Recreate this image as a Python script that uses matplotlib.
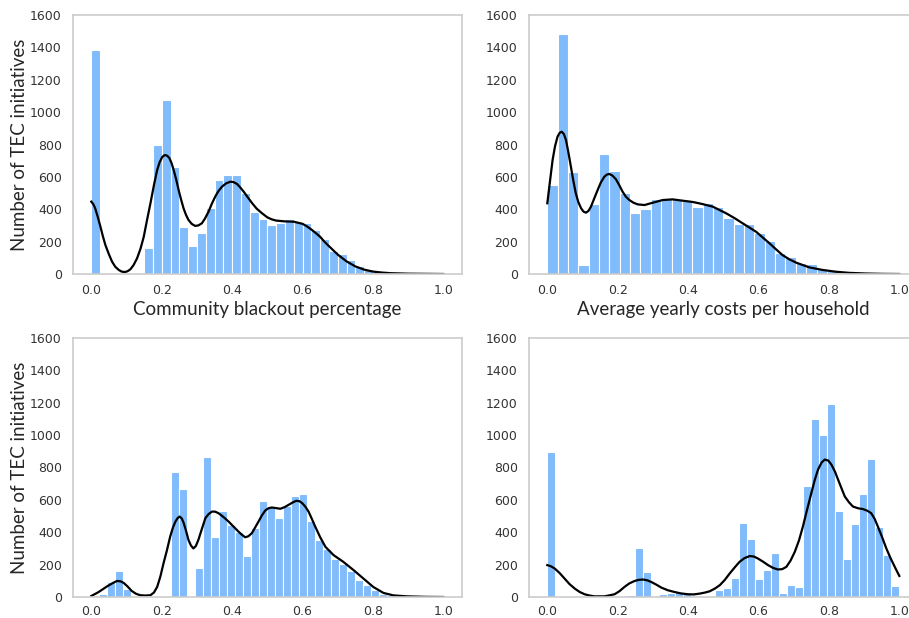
import numpy as np
import matplotlib.pyplot as plt

# histogram counts per bin (bins span 0..1)
blackout_counts = [1384, 0, 0, 0, 0, 0, 163, 797, 1073, 661, 292, 173, 251, 408, 581,
                   609, 614, 498, 385, 342, 301, 313, 338, 323, 317, 272, 214, 144, 124,
                   86, 49, 33, 20, 12, 5, 3, 1, 0, 0, 0]
costs_counts = [550, 1482, 632, 54, 431, 739, 636, 502, 379, 401, 465, 465, 462, 451,
                411, 437, 415, 347, 310, 309, 251, 204, 128, 107, 70, 62, 29, 19, 8, 4,
                2, 1, 0, 0]
panel3_counts = [0, 17, 93, 161, 50, 0, 0, 0, 0, 0, 770, 667, 0, 180, 867, 373, 534, 445,
                 404, 253, 424, 595, 563, 488, 563, 623, 639, 470, 354, 294, 232, 201,
                 159, 104, 72, 46, 21, 10, 4, 2, 1, 0, 0, 0]
panel4_counts = [896, 0, 0, 0, 0, 0, 0, 0, 0, 0, 12, 302, 153, 8, 17, 23, 29, 17, 6, 4,
                 8, 46, 56, 118, 458, 357, 114, 166, 271, 25, 75, 61, 683, 1102, 999,
                 1194, 531, 234, 454, 636, 853, 435, 259, 67]

# kde curves
blackout_kde_x = [0.0, 0.006, 0.011, 0.018, 0.026, 0.033, 0.040, 0.050, 0.059, 0.068,
                  0.078, 0.086, 0.095, 0.103, 0.111, 0.120, 0.130, 0.140, 0.149, 0.158,
                  0.168, 0.178, 0.187, 0.194, 0.201, 0.206, 0.210, 0.216, 0.222, 0.228,
                  0.234, 0.241, 0.248, 0.255, 0.262, 0.269, 0.276, 0.285, 0.295, 0.304,
                  0.314, 0.323, 0.333, 0.342, 0.352, 0.361, 0.371, 0.383, 0.395, 0.404,
                  0.414, 0.423, 0.433, 0.445, 0.457, 0.470, 0.485, 0.5, 0.512, 0.525,
                  0.55, 0.575, 0.6, 0.612, 0.625, 0.637, 0.65, 0.662, 0.675, 0.7, 0.725,
                  0.75, 0.775, 0.8, 0.825, 0.85, 0.9, 0.95, 1.0]
blackout_kde_y = [447, 430, 406, 355, 292, 232, 179, 122, 76, 45, 25, 15, 12, 17, 29, 55,
                  97, 158, 230, 330, 437, 550, 642, 690, 721, 731, 735, 730, 715, 685, 642,
                  585, 519, 460, 406, 365, 334, 310, 297, 300, 313, 343, 385, 432, 478, 512,
                  539, 560, 570, 568, 556, 535, 508, 472, 437, 403, 375, 350, 338, 330, 325,
                  323, 310, 295, 275, 254, 230, 200, 172, 120, 78, 47, 27, 15, 9, 5, 2, 1, 0]
costs_kde_x = [0.0, 0.008, 0.015, 0.022, 0.029, 0.035, 0.041, 0.047, 0.053, 0.060, 0.067,
               0.074, 0.081, 0.088, 0.096, 0.103, 0.110, 0.117, 0.124, 0.133, 0.143,
               0.152, 0.162, 0.169, 0.176, 0.185, 0.195, 0.204, 0.214, 0.223, 0.233,
               0.245, 0.257, 0.276, 0.299, 0.328, 0.356, 0.384, 0.413, 0.441, 0.470,
               0.508, 0.532, 0.555, 0.593, 0.631, 0.650, 0.668, 0.688, 0.707, 0.744,
               0.782, 0.820, 0.858, 0.905, 0.95, 1.0]
costs_kde_y = [437, 580, 704, 790, 848, 872, 879, 865, 828, 750, 663, 575, 498, 445, 406,
               385, 379, 390, 416, 465, 519, 565, 601, 614, 618, 608, 585, 550, 508, 478,
               457, 440, 430, 426, 440, 457, 461, 453, 445, 432, 416, 375, 345, 313, 261,
               190, 152, 117, 90, 70, 41, 25, 14, 7, 3, 1, 0]
panel3_kde_x = [0.0, 0.021, 0.045, 0.060, 0.073, 0.083, 0.092, 0.103, 0.115, 0.127, 0.139,
                0.153, 0.168, 0.178, 0.187, 0.196, 0.205, 0.215, 0.224, 0.232, 0.239,
                0.245, 0.251, 0.257, 0.262, 0.269, 0.276, 0.283, 0.290, 0.297, 0.304,
                0.314, 0.324, 0.333, 0.343, 0.352, 0.361, 0.375, 0.390, 0.404, 0.418,
                0.428, 0.437, 0.446, 0.456, 0.465, 0.475, 0.484, 0.494, 0.503, 0.513,
                0.525, 0.537, 0.549, 0.561, 0.572, 0.582, 0.591, 0.599, 0.608, 0.617,
                0.626, 0.636, 0.650, 0.665, 0.688, 0.716, 0.745, 0.773, 0.801, 0.830,
                0.858, 0.896, 0.95, 1.0]
panel3_kde_y = [6, 31, 66, 85, 99, 97, 87, 65, 37, 20, 11, 9, 11, 28, 62, 125, 207, 290,
                373, 430, 466, 487, 497, 485, 460, 410, 352, 318, 300, 315, 352, 420, 487,
                512, 528, 527, 518, 495, 466, 435, 404, 384, 369, 375, 394, 428, 466, 502,
                534, 548, 553, 549, 545, 555, 570, 584, 594, 592, 580, 558, 528, 485, 435,
                370, 310, 259, 217, 166, 114, 62, 25, 10, 4, 1, 0]
panel4_kde_x = [0.0, 0.010, 0.021, 0.035, 0.049, 0.063, 0.078, 0.092, 0.106, 0.120, 0.134,
                0.163, 0.191, 0.205, 0.219, 0.233, 0.248, 0.260, 0.272, 0.284, 0.295,
                0.310, 0.324, 0.342, 0.361, 0.380, 0.399, 0.416, 0.433, 0.447, 0.461,
                0.476, 0.490, 0.504, 0.518, 0.532, 0.546, 0.560, 0.575, 0.587, 0.598,
                0.613, 0.627, 0.641, 0.655, 0.667, 0.679, 0.691, 0.703, 0.715, 0.726,
                0.738, 0.750, 0.760, 0.769, 0.779, 0.788, 0.798, 0.807, 0.817, 0.826,
                0.836, 0.845, 0.857, 0.868, 0.883, 0.897, 0.909, 0.920, 0.930, 0.939,
                0.951, 0.963, 0.975, 0.987, 1.0]
panel4_kde_y = [197, 190, 176, 148, 114, 80, 52, 31, 17, 9, 4, 4, 17, 36, 62, 84, 99, 106,
                108, 103, 93, 76, 58, 42, 31, 22, 17, 16, 21, 27, 35, 52, 73, 105, 145,
                182, 217, 240, 253, 250, 238, 218, 197, 180, 170, 172, 186, 225, 279, 350,
                435, 540, 642, 725, 787, 830, 849, 843, 818, 775, 725, 670, 621, 585, 559,
                548, 543, 533, 518, 482, 435, 370, 300, 240, 186, 130]

xlabels = ["Community blackout percentage", "Average yearly costs per household", None, None]
ylabel = "Number of TEC initiatives"

bar_color = "#80bbfb"
W, H = 909, 618

fig = plt.figure(figsize=(W / 100, H / 100), dpi=100)

# axes boxes in pixels: left, top
boxes = [(73, 15), (529, 15), (73, 338), (529, 338)]
aw, ah = 389, 259

panels = [
    (blackout_counts, blackout_kde_x, blackout_kde_y),
    (costs_counts, costs_kde_x, costs_kde_y),
    (panel3_counts, panel3_kde_x, panel3_kde_y),
    (panel4_counts, panel4_kde_x, panel4_kde_y),
]

for i, ((counts, kx, ky), (left, top)) in enumerate(zip(panels, boxes)):
    ax = fig.add_axes([left / W, (H - top - ah) / H, aw / W, ah / H])
    edges = np.linspace(0, 1, len(counts) + 1)
    ax.bar(edges[:-1], counts, width=np.diff(edges), align="edge",
           color=bar_color, edgecolor="white", linewidth=0.8)
    ax.plot(kx, ky, color="black", linewidth=1.6, solid_joinstyle="round")

    ax.set_xlim(-0.052, 1.053)
    ax.set_ylim(0, 1600)
    ax.set_xticks([0.0, 0.2, 0.4, 0.6, 0.8, 1.0])
    ax.set_yticks(range(0, 1601, 200))
    ax.tick_params(length=0, labelsize=9, labelcolor="#333333")
    ax.tick_params(axis="x", pad=7 if i < 2 else 6)
    ax.tick_params(axis="y", pad=8)
    for s in ax.spines.values():
        s.set_color("#cccccc")
        s.set_linewidth(1.2)

    if xlabels[i]:
        ax.set_xlabel(xlabels[i], fontsize=13.5, family="Lato", color="#262626", va="top")
        ax.xaxis.set_label_coords(0.5, -0.105)
    if i % 2 == 0:
        ax.set_ylabel(ylabel, fontsize=13.5, family="Lato", color="#262626")
        ax.yaxis.set_label_coords(-0.115, 0.5)

fig.savefig("out.png", dpi=100)
